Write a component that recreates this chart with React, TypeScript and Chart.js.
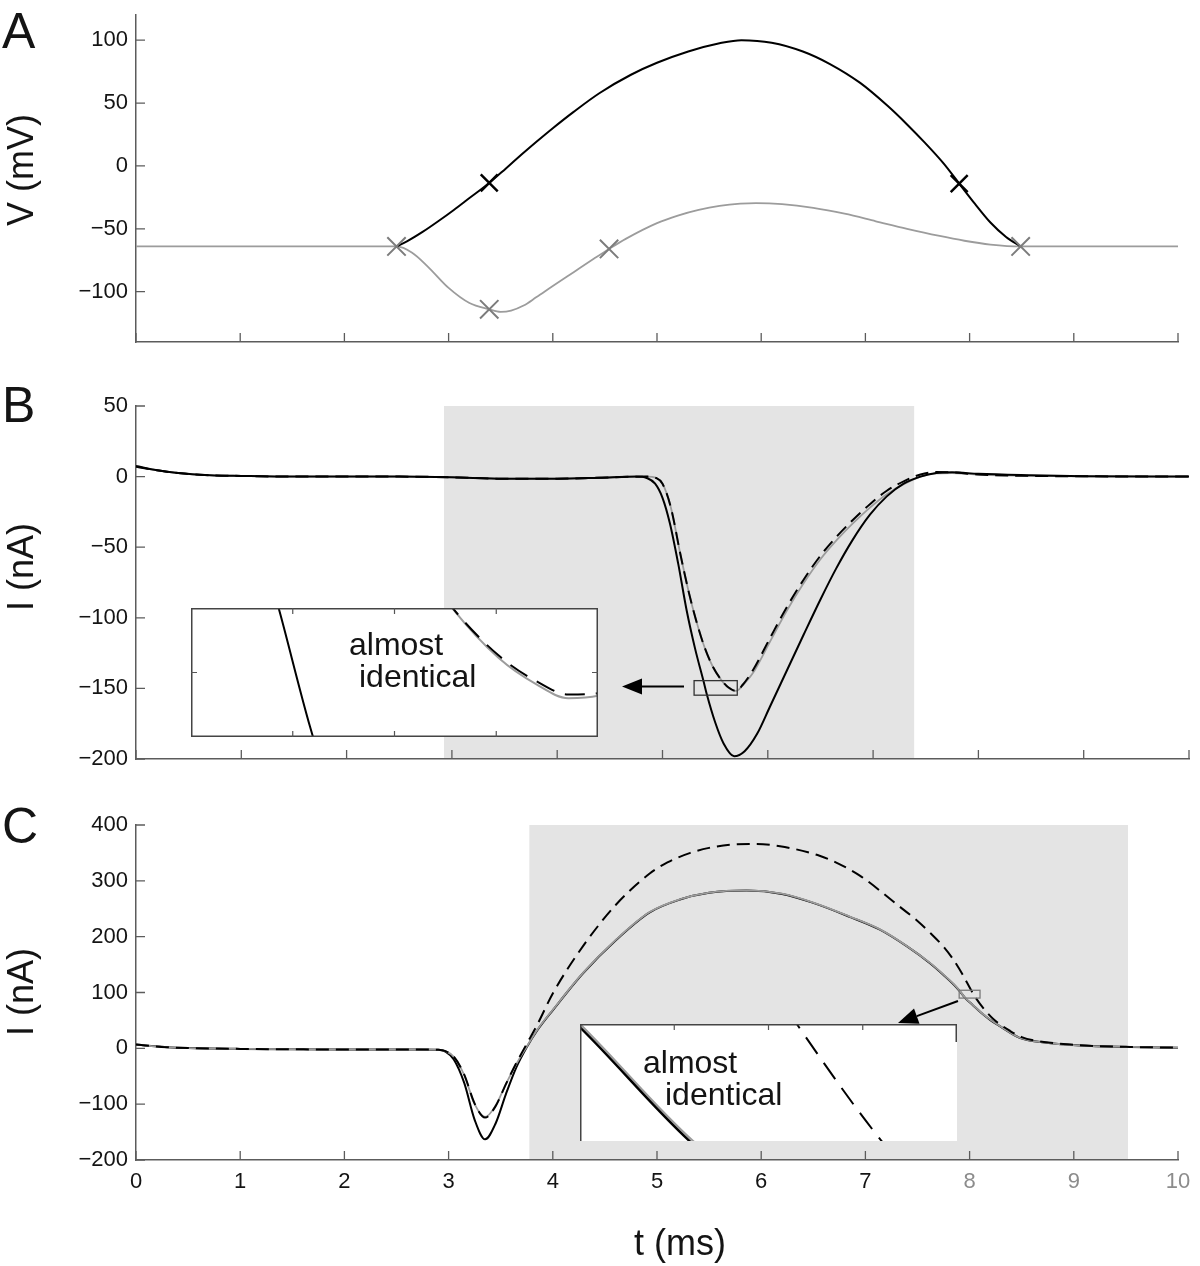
import React, { useEffect, useRef } from 'react';
import { Chart, registerables } from 'chart.js';

Chart.register(...registerables);

// ---------------- data ----------------
const T_TICKS = [0, 1, 2, 3, 4, 5, 6, 7, 8, 9, 10];
const A_Y_TICKS = [-100, -50, 0, 50, 100];
const B_Y_TICKS = [-200, -150, -100, -50, 0, 50];
const C_Y_TICKS = [-200, -100, 0, 100, 200, 300, 400];

// Panel A: membrane potential (mV)
const A_BLACK_T = [2.5, 2.6, 2.75, 2.9, 3.05, 3.2, 3.39, 3.55, 3.7, 3.84, 4.0, 4.2, 4.45, 4.75, 5.0, 5.3, 5.6, 5.81, 6.1, 6.4, 6.66, 6.95, 7.21, 7.4, 7.57, 7.75, 7.9, 8.05, 8.2, 8.35, 8.49];
const A_BLACK_V = [-64, -60, -52.5, -44, -35, -25.5, -13.5, -2, 9, 19, 30, 43, 58, 72.5, 82, 91, 97.5, 100, 98, 91, 81, 66, 48, 33, 18.5, 2, -14, -30, -45, -56.5, -64];
const A_GRAY_T = [0, 2.5, 2.65, 2.8, 3.0, 3.2, 3.39, 3.5, 3.6, 3.72, 3.84, 4.0, 4.2, 4.4, 4.54, 4.7, 5.0, 5.2, 5.4, 5.6, 5.8, 5.95, 6.2, 6.5, 6.8, 7.1, 7.4, 7.7, 7.95, 8.2, 8.49, 10];
const A_GRAY_V = [-64, -64, -69, -80, -97, -109, -114, -116, -115, -111, -104.5, -95.5, -84.5, -73.5, -66, -58, -45.5, -39.5, -35, -31.8, -30, -29.5, -30.3, -33.3, -38, -44, -50, -55.5, -59.5, -62.5, -64, -64];
const A_BLACK_MARK_T = [3.39, 7.9];
const A_BLACK_MARK_V = [-13.5, -14];
const A_GRAY_MARK_T = [2.5, 3.39, 4.54, 8.49];
const A_GRAY_MARK_V = [-64, -114, -66, -64];

// Panel B: current (nA)
const B_BLACK_T = [0, 0.2, 0.4, 0.7, 1.0, 1.5, 2.5, 3.0, 3.5, 4.0, 4.4, 4.75, 4.85, 4.93, 5.0, 5.07, 5.15, 5.23, 5.31, 5.39, 5.42, 5.5, 5.58, 5.68, 5.78, 5.9, 6.02, 6.18, 6.34, 6.5, 6.65, 6.8, 6.97, 7.13, 7.29, 7.45, 7.6, 7.75, 8.0, 8.5, 9.0, 10];
const B_BLACK_V = [7.5, 4.5, 2.5, 1, 0.5, 0, 0, -0.5, -1.5, -1.5, -0.8, 0, -1, -5, -15, -33, -62, -95, -122, -145, -154, -174, -189, -198, -194.5, -182, -163, -137.5, -112, -87, -65, -45.5, -27, -14, -5, 0, 2.5, 3, 2, 1, 0.3, 0];
const B_GRAY_T = [0, 0.2, 0.4, 0.7, 1.0, 1.5, 2.5, 3.0, 3.5, 4.0, 4.4, 4.85, 4.94, 5.0, 5.08, 5.17, 5.25, 5.32, 5.4, 5.48, 5.56, 5.61, 5.648, 5.68, 5.71, 5.76, 5.86, 6.02, 6.18, 6.34, 6.5, 6.66, 6.81, 6.97, 7.13, 7.3, 7.45, 7.6, 7.75, 8.0, 8.5, 9.0, 10];
const B_GRAY_V = [7, 4.5, 2.5, 1, 0.5, 0, 0, -0.5, -1.5, -1.5, -0.8, 0, -1, -5, -22, -55, -82, -102, -121, -135, -144.2, -148.5, -150.6, -151.7, -151.5, -148, -139, -117, -95, -75.5, -58.5, -44.5, -33, -22, -12.5, -5, 0, 2.3, 2.5, 1.5, 0.5, 0.2, 0];
const B_DASH_T = [0, 0.2, 0.4, 0.7, 1.0, 1.5, 2.5, 3.0, 3.5, 4.0, 4.4, 4.85, 4.94, 5.0, 5.08, 5.17, 5.25, 5.32, 5.4, 5.48, 5.56, 5.61, 5.648, 5.68, 5.71, 5.76, 5.86, 6.02, 6.18, 6.34, 6.5, 6.66, 6.81, 6.97, 7.13, 7.3, 7.45, 7.6, 7.75, 8.0, 8.5, 9.0, 10];
const B_DASH_V = [7, 4.5, 2.5, 1, 0.5, 0, 0, -0.5, -1.5, -1.5, -0.8, 0, -1, -5, -22, -55, -82, -102, -121, -134.9, -144.15, -148.3, -150.35, -151.4, -151.3, -147.6, -137, -114.5, -92.5, -73, -56, -42, -30.5, -19.5, -10, -3, 1.5, 3.2, 3, 1.5, 0.5, 0.2, 0];

// Panel C: current (nA)
const C_GRAY_T = [0, 0.15, 0.3, 0.5, 1.0, 2.0, 2.7, 2.9, 2.97, 3.05, 3.15, 3.25, 3.35, 3.45, 3.55, 3.65, 3.75, 3.85, 4.005, 4.29, 4.61, 4.93, 5.22, 5.5, 5.86, 6.2, 6.5, 6.85, 7.14, 7.4, 7.62, 7.75, 7.85, 7.9, 7.96, 8.03, 8.1, 8.2, 8.29, 8.48, 8.74, 9.06, 9.54, 10];
const C_GRAY_V = [7, 4, 2, 0.5, -1, -2, -2, -2.5, -5, -15, -48, -100, -123, -103, -64, -28, 3, 33, 70, 135, 195, 244, 267, 279, 283, 277, 261, 236, 213, 183, 153, 132, 114.5, 104, 90, 78, 66, 51, 40, 19, 10, 5, 2.5, 1.2];
const C_BLACK_T = [0, 0.15, 0.3, 0.5, 1.0, 2.0, 2.7, 2.9, 2.97, 3.05, 3.15, 3.25, 3.35, 3.45, 3.55, 3.65, 3.75, 3.85, 4.005, 4.29, 4.61, 4.93, 5.22, 5.5, 5.86, 6.2, 6.5, 6.85, 7.14, 7.4, 7.62, 7.75, 7.85, 7.9, 7.96, 8.03, 8.1, 8.2, 8.29, 8.48, 8.74, 9.06, 9.54, 10];
const C_BLACK_V = [7, 4, 2, 0.5, -1, -2, -2, -2.5, -6, -20, -62, -128, -163, -135, -82, -34, 2, 32, 69.5, 134.5, 194.5, 243.5, 266.5, 278.5, 282.5, 276.5, 260.5, 235.5, 212.5, 182.5, 152.5, 131.5, 114, 103.6, 89.6, 77.6, 65.6, 50.6, 39.7, 18.8, 9.9, 5, 2.5, 1.2];
const C_DASH_T = [0, 0.15, 0.3, 0.5, 1.0, 2.0, 2.7, 2.9, 2.97, 3.05, 3.15, 3.25, 3.35, 3.45, 3.55, 3.65, 3.75, 3.85, 4.005, 4.29, 4.61, 4.93, 5.1, 5.32, 5.5, 5.73, 5.95, 6.18, 6.56, 6.75, 6.95, 7.3, 7.5, 7.62, 7.75, 7.84, 7.93, 8.015, 8.06, 8.14, 8.23, 8.39, 8.5, 8.65, 8.85, 9.1, 9.54, 10];
const C_DASH_V = [7, 4, 2, 0.5, -1, -2, -2, -2.5, -5, -15, -47, -99, -124, -104, -64, -26, 8, 42, 100, 183, 258, 313, 333, 350, 359, 365, 366, 362, 345, 330, 309, 258, 228, 207, 182, 160, 133, 104, 90, 70, 52, 31, 20, 13, 8.5, 5, 2.5, 1.2];

// shaded intervals (ms) and zoomed windows
const SHADE_B = [2.925, 7.39];
const SHADE_C = [3.775, 9.52];
const ZOOM_B = { x0: 5.3, x1: 5.71, y0: -154.8, y1: -144.5 };
const ZOOM_C = { x0: 7.9, x1: 8.1, y0: 90, y1: 104 };

// ---------------- style ----------------
const FONT = '"Liberation Sans", Arial, Helvetica, sans-serif';
const AXIS = '#5c5c5c';
const INK = '#141414';
const GRAY = '#9c9c9c';
const GRAY_MARK = '#7c7c7c';
const SHADE = '#e4e4e4';
const DASH_MAIN = [13, 7];
const DASH_INSET = [20, 11];
const TICK_FONT = 22;

const pts = (t: number[], v: number[]) => t.map((x, i) => ({ x, y: v[i] }));

function lineDs(t: number[], v: number[], color: string, width: number, dash: number[] = []) {
  return {
    data: pts(t, v),
    borderColor: color,
    borderWidth: width,
    borderDash: dash,
    pointRadius: 0,
    fill: false,
    cubicInterpolationMode: 'monotone',
  };
}

function markDs(t: number[], v: number[], color: string, radius: number, width: number) {
  return {
    data: pts(t, v),
    showLine: false,
    pointStyle: 'crossRot',
    pointRadius: radius,
    pointBorderColor: color,
    pointBackgroundColor: color,
    pointBorderWidth: width,
    borderColor: color,
  };
}

function drawArrow(ctx: CanvasRenderingContext2D, x1: number, y1: number, x2: number, y2: number) {
  const ang = Math.atan2(y2 - y1, x2 - x1);
  const L = 20;
  const W = 8;
  const bx = x2 - L * Math.cos(ang);
  const by = y2 - L * Math.sin(ang);
  ctx.strokeStyle = '#000';
  ctx.lineWidth = 2;
  ctx.beginPath();
  ctx.moveTo(x1, y1);
  ctx.lineTo(bx, by);
  ctx.stroke();
  ctx.fillStyle = '#000';
  ctx.beginPath();
  ctx.moveTo(x2, y2);
  ctx.lineTo(bx + W * Math.sin(ang), by - W * Math.cos(ang));
  ctx.lineTo(bx - W * Math.sin(ang), by + W * Math.cos(ang));
  ctx.closePath();
  ctx.fill();
}

function makeDecor(s: any) {
  const oy = s.canvasTop;
  return {
    id: 'decor',
    beforeDraw(chart: any) {
      const { ctx, chartArea: a, scales } = chart;
      if (s.shade) {
        const x0 = scales.x.getPixelForValue(s.shade[0]);
        const x1 = scales.x.getPixelForValue(s.shade[1]);
        ctx.save();
        ctx.fillStyle = SHADE;
        ctx.fillRect(x0, a.top, x1 - x0, a.bottom - a.top);
        ctx.restore();
      }
    },
    beforeDatasetsDraw(chart: any) {
      const { ctx, chartArea: a, scales } = chart;
      ctx.save();
      ctx.strokeStyle = AXIS;
      ctx.lineWidth = 1.3;
      ctx.beginPath();
      for (const t of scales.x.ticks) {
        const px = scales.x.getPixelForValue(t.value);
        ctx.moveTo(px, a.bottom);
        ctx.lineTo(px, a.bottom - 9);
      }
      for (const t of scales.y.ticks) {
        const py = scales.y.getPixelForValue(t.value);
        ctx.moveTo(a.left, py);
        ctx.lineTo(a.left + 9, py);
      }
      ctx.stroke();
      ctx.restore();
    },
    afterDraw(chart: any) {
      const { ctx, scales } = chart;
      ctx.save();
      if (s.zoom) {
        const z = s.zoom;
        const xa = scales.x.getPixelForValue(z.x0);
        const xb = scales.x.getPixelForValue(z.x1);
        const ya = scales.y.getPixelForValue(z.y1);
        const yb = scales.y.getPixelForValue(z.y0);
        ctx.strokeStyle = s.zoomColor;
        ctx.lineWidth = 1.3;
        ctx.strokeRect(xa, ya, xb - xa, yb - ya);
      }
      if (s.arrow) drawArrow(ctx, s.arrow[0], s.arrow[1] - oy, s.arrow[2], s.arrow[3] - oy);
      ctx.fillStyle = INK;
      ctx.textAlign = 'left';
      ctx.textBaseline = 'alphabetic';
      ctx.font = `50px ${FONT}`;
      ctx.fillText(s.letter, 2, s.letterY - oy);
      ctx.font = `36px ${FONT}`;
      ctx.save();
      ctx.translate(33, s.yTitleY - oy);
      ctx.rotate(-Math.PI / 2);
      ctx.textAlign = 'center';
      ctx.fillText(s.yTitle, 0, 0);
      ctx.restore();
      if (s.xTitle) {
        ctx.textAlign = 'center';
        ctx.font = `36px ${FONT}`;
        ctx.fillText(s.xTitle, 680, 1255 - oy);
      }
      ctx.restore();
    },
  };
}

function buildMainConfig(s: any): any {
  const plot = s.plot;
  return {
    type: 'line',
    data: { datasets: s.datasets },
    options: {
      responsive: false,
      animation: false,
      devicePixelRatio: 1,
      events: [],
      layout: { padding: { left: 0, right: 1200 - plot.right, top: plot.top - s.canvasTop, bottom: 0 } },
      plugins: { legend: { display: false }, tooltip: { enabled: false } },
      elements: { line: { capBezierPoints: false } },
      scales: {
        x: {
          type: 'linear',
          min: 0,
          max: 10,
          afterBuildTicks: (sc: any) => {
            sc.ticks = T_TICKS.map((v) => ({ value: v }));
          },
          afterFit: (sc: any) => {
            sc.height = s.canvasH - (plot.bottom - s.canvasTop);
            sc.paddingLeft = 0;
            sc.paddingRight = 0;
          },
          grid: { display: false, drawTicks: false },
          border: { display: true, color: AXIS, width: 1.5 },
          ticks: {
            display: s.xLabels,
            autoSkip: false,
            maxRotation: 0,
            padding: 9,
            font: { family: FONT, size: TICK_FONT },
            color: (c: any) => (c.tick && c.tick.value >= 8 ? '#8c8c8c' : INK),
            callback: (v: any) => String(v),
          },
        },
        y: {
          type: 'linear',
          min: s.yMin,
          max: s.yMax,
          afterBuildTicks: (sc: any) => {
            sc.ticks = s.yTicks.map((v: number) => ({ value: v }));
          },
          afterFit: (sc: any) => {
            sc.width = plot.left;
            sc.paddingTop = 0;
            sc.paddingBottom = 0;
          },
          grid: { display: false, drawTicks: false },
          border: { display: true, color: AXIS, width: 1.5 },
          ticks: {
            padding: 8,
            font: { family: FONT, size: TICK_FONT },
            color: INK,
            callback: (v: any) => String(v).replace('-', '\u2212'),
          },
        },
      },
    },
    plugins: [makeDecor(s)],
  };
}

function makeInsetDecor(s: any) {
  return {
    id: 'insetDecor',
    beforeDraw(chart: any) {
      const { ctx, width, height } = chart;
      ctx.save();
      ctx.fillStyle = '#ffffff';
      ctx.fillRect(0, 0, width, height);
      ctx.restore();
    },
    afterDraw(chart: any) {
      const { ctx, width: w, height: h, scales } = chart;
      const z = s.zoom;
      ctx.save();
      ctx.strokeStyle = '#444';
      ctx.lineWidth = 1.5;
      ctx.beginPath();
      if (s.fullBox) {
        ctx.rect(0.75, 0.75, w - 1.5, h - 1.5);
      } else {
        ctx.moveTo(0.75, h);
        ctx.lineTo(0.75, 0.75);
        ctx.lineTo(w - 0.75, 0.75);
        ctx.lineTo(w - 0.75, 18);
      }
      ctx.stroke();
      ctx.lineWidth = 1.2;
      ctx.strokeStyle = '#555';
      ctx.beginPath();
      for (let k = 1; k <= 3; k++) {
        const px = scales.x.getPixelForValue(z.x0 + ((z.x1 - z.x0) * k) / 4);
        ctx.moveTo(px, 0);
        ctx.lineTo(px, 6);
        if (s.fullBox) {
          ctx.moveTo(px, h);
          ctx.lineTo(px, h - 6);
        }
      }
      if (s.fullBox) {
        const py = scales.y.getPixelForValue((z.y0 + z.y1) / 2);
        ctx.moveTo(0, py);
        ctx.lineTo(6, py);
        ctx.moveTo(w, py);
        ctx.lineTo(w - 6, py);
      }
      ctx.stroke();
      ctx.fillStyle = INK;
      ctx.font = `32px ${FONT}`;
      ctx.textAlign = 'left';
      ctx.textBaseline = 'alphabetic';
      ctx.fillText('almost', s.text1[0], s.text1[1]);
      ctx.fillText('identical', s.text2[0], s.text2[1]);
      ctx.restore();
    },
  };
}

function buildInsetConfig(s: any): any {
  return {
    type: 'line',
    data: { datasets: s.datasets },
    options: {
      responsive: false,
      animation: false,
      devicePixelRatio: 1,
      events: [],
      layout: { padding: 0 },
      plugins: { legend: { display: false }, tooltip: { enabled: false } },
      elements: { line: { capBezierPoints: false } },
      scales: {
        x: { type: 'linear', display: false, min: s.zoom.x0, max: s.zoom.x1 },
        y: { type: 'linear', display: false, min: s.zoom.y0, max: s.zoom.y1 },
      },
    },
    plugins: [makeInsetDecor(s)],
  };
}

// ---------------- panel specs ----------------
const A_SPEC = {
  canvasTop: 0,
  canvasH: 380,
  plot: { left: 136, right: 1178, top: 7, bottom: 342 },
  yMin: -140,
  yMax: 120,
  yTicks: A_Y_TICKS,
  xLabels: false,
  letter: 'A',
  letterY: 48,
  yTitle: 'V (mV)',
  yTitleY: 170,
  datasets: [
    markDs(A_BLACK_MARK_T, A_BLACK_MARK_V, '#000', 12, 2.5),
    markDs(A_GRAY_MARK_T, A_GRAY_MARK_V, GRAY_MARK, 13, 2),
    lineDs(A_BLACK_T, A_BLACK_V, '#000', 2),
    lineDs(A_GRAY_T, A_GRAY_V, GRAY, 1.8),
  ],
};

const B_SPEC = {
  canvasTop: 380,
  canvasH: 400,
  plot: { left: 136, right: 1189, top: 406, bottom: 759 },
  yMin: -200,
  yMax: 50,
  yTicks: B_Y_TICKS,
  xLabels: false,
  letter: 'B',
  letterY: 422,
  yTitle: 'I (nA)',
  yTitleY: 567,
  shade: SHADE_B,
  zoom: ZOOM_B,
  zoomColor: '#333',
  arrow: [684, 686.5, 622, 686.5],
  datasets: [
    lineDs(B_DASH_T, B_DASH_V, '#000', 2, DASH_MAIN),
    lineDs(B_BLACK_T, B_BLACK_V, '#000', 2),
    lineDs(B_GRAY_T, B_GRAY_V, GRAY, 1.8),
  ],
};

const C_SPEC = {
  canvasTop: 800,
  canvasH: 466,
  plot: { left: 136, right: 1178, top: 825, bottom: 1160 },
  yMin: -200,
  yMax: 400,
  yTicks: C_Y_TICKS,
  xLabels: true,
  letter: 'C',
  letterY: 843,
  yTitle: 'I (nA)',
  yTitleY: 992,
  xTitle: 't (ms)',
  shade: SHADE_C,
  zoom: ZOOM_C,
  zoomColor: '#7a7a7a',
  arrow: [958, 1001, 898, 1023],
  datasets: [
    lineDs(C_DASH_T, C_DASH_V, '#000', 2, DASH_MAIN),
    lineDs(C_GRAY_T, C_GRAY_V, GRAY, 1.8),
    lineDs(C_BLACK_T, C_BLACK_V, '#000', 2),
  ],
};

const B_INSET = {
  left: 191,
  top: 608,
  width: 407,
  height: 129,
  zoom: ZOOM_B,
  fullBox: true,
  text1: [158, 47],
  text2: [168, 79],
  datasets: [
    lineDs(B_DASH_T, B_DASH_V, '#000', 2, DASH_INSET),
    lineDs(B_BLACK_T, B_BLACK_V, '#000', 2),
    lineDs(B_GRAY_T, B_GRAY_V, GRAY, 2),
  ],
};

const C_INSET = {
  left: 580,
  top: 1024,
  width: 377,
  height: 117,
  zoom: ZOOM_C,
  fullBox: false,
  text1: [63, 49],
  text2: [85, 81],
  datasets: [
    lineDs(C_DASH_T, C_DASH_V, '#000', 2, DASH_INSET),
    lineDs(C_BLACK_T, C_BLACK_V, '#000', 2.4),
    lineDs(C_GRAY_T, C_GRAY_V, GRAY, 2),
  ],
};

// ---------------- components ----------------
function Panel({ spec }: { spec: any }) {
  const ref = useRef<HTMLCanvasElement>(null);
  useEffect(() => {
    const chart = new Chart(ref.current as HTMLCanvasElement, buildMainConfig(spec));
    return () => chart.destroy();
  }, []);
  return (
    <canvas
      ref={ref}
      width={1200}
      height={spec.canvasH}
      style={{ position: 'absolute', left: 0, top: spec.canvasTop, width: 1200, height: spec.canvasH }}
    />
  );
}

function Inset({ spec }: { spec: any }) {
  const ref = useRef<HTMLCanvasElement>(null);
  useEffect(() => {
    const chart = new Chart(ref.current as HTMLCanvasElement, buildInsetConfig(spec));
    return () => chart.destroy();
  }, []);
  return (
    <canvas
      ref={ref}
      width={spec.width}
      height={spec.height}
      style={{ position: 'absolute', left: spec.left, top: spec.top, width: spec.width, height: spec.height }}
    />
  );
}

export default function App() {
  return (
    <div
      style={{
        position: 'absolute',
        left: 0,
        top: 0,
        width: 1200,
        height: 1266,
        background: '#ffffff',
        overflow: 'hidden',
      }}
    >
      <Panel spec={A_SPEC} />
      <Panel spec={B_SPEC} />
      <Panel spec={C_SPEC} />
      <Inset spec={B_INSET} />
      <Inset spec={C_INSET} />
    </div>
  );
}
